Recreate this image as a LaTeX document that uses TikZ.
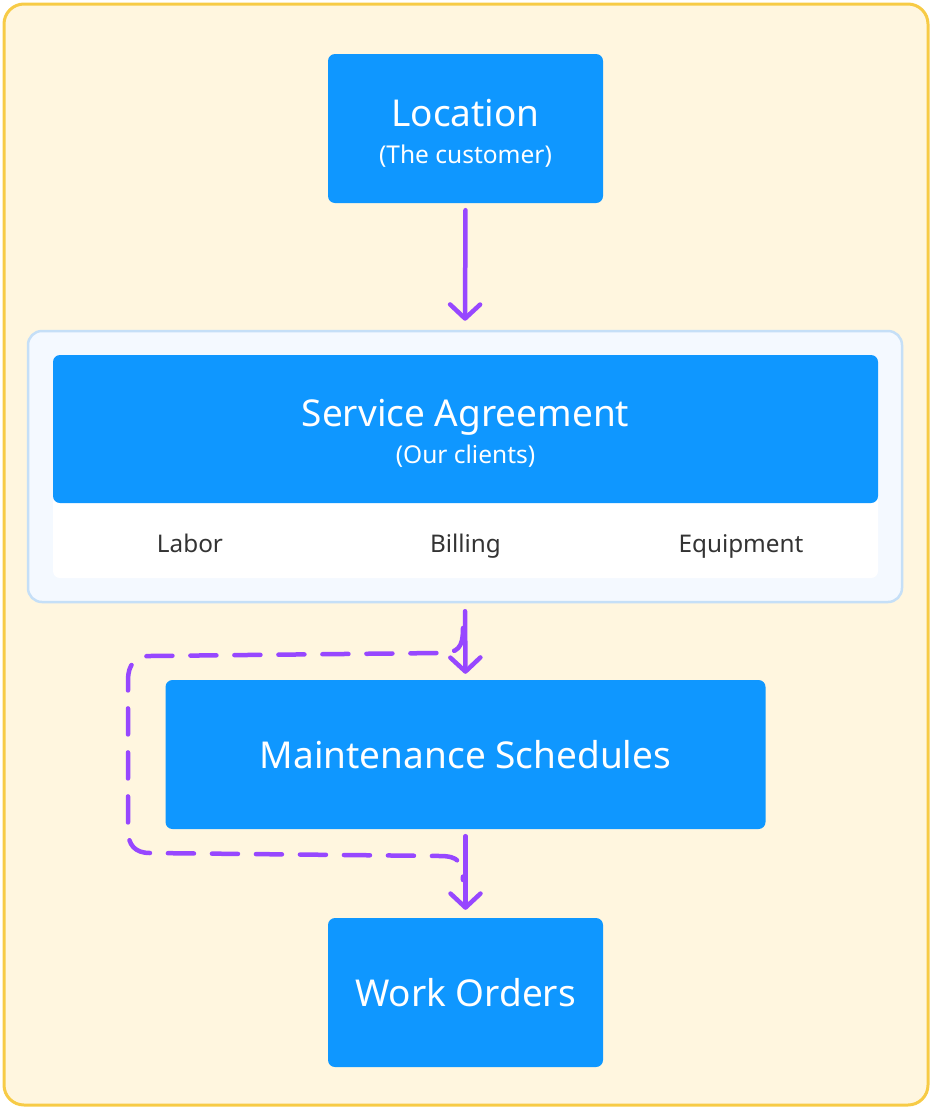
\documentclass[tikz,border=0pt]{standalone}
\usepackage{fontspec}
\setmainfont{Noto Sans}
\usetikzlibrary{arrows.meta}
\definecolor{bgy}{HTML}{FFF6DF}
\definecolor{bdy}{HTML}{F7CB46}
\definecolor{bl}{HTML}{0F97FF}
\definecolor{pur}{HTML}{9747FF}
\definecolor{cont}{HTML}{F4F9FF}
\definecolor{contb}{HTML}{C5DFF7}
\definecolor{txt}{HTML}{333333}
\tikzset{
  bluebox/.style={fill=bl, rounded corners=7pt, inner sep=0pt, text=white, align=center},
  big/.style={text=white, anchor=base, inner sep=0pt, font=\fontsize{37}{44}\selectfont},
  small/.style={text=white, anchor=base, inner sep=0pt, font=\fontsize{24.5}{29}\selectfont},
  arr/.style={draw=pur, line width=4.5pt, line cap=round, -{Straight Barb[length=14pt,width=30pt,line cap=round,line join=round]}},
  loop/.style={draw=pur, line width=4.5pt, line cap=round, dash pattern=on 26pt off 18pt},
  cell/.style={text=txt, anchor=base, font=\fontsize{24.3}{29}\selectfont, inner sep=0pt}
}
\begin{document}
\begin{tikzpicture}[x=1pt,y=-1pt]
\useasboundingbox (0,0) rectangle (932,1109);
\draw[fill=bgy, draw=bdy, line width=3pt, rounded corners=20pt] (4,4) rectangle (928,1105);
% Location
\node[bluebox, minimum width=275pt, minimum height=149pt] (loc) at (465.5,128.5) {};
\node[big] (loct) at (465.5,126) {Location};
\node[small] (locs) at (465.5,163) {(The customer)};
% Service agreement container
\node[fill=cont, draw=contb, line width=2.5pt, rounded corners=14pt, minimum width=874pt, minimum height=271pt, inner sep=0pt] (sac) at (465,466.5) {};
\node[fill=white, rounded corners=7pt, minimum width=825pt, minimum height=83pt, inner sep=0pt] (strip) at (465.5,536.5) {};
\node[bluebox, minimum width=825pt, minimum height=148pt] (sa) at (465.5,429) {};
\node[big] (sat) at (465.5,426) {Service Agreement};
\node[small] (sas) at (465.5,463) {(Our clients)};
\node[cell] (labor) at (190,552) {Labor};
\node[cell] (billing) at (465.5,552) {Billing};
\node[cell] (equip) at (741,552) {Equipment};
% Maintenance
\node[bluebox, minimum width=600pt, minimum height=149pt] (ms) at (465.5,754.5) {};
\node[big] (mst) at (465.5,768) {Maintenance Schedules};
% Work orders
\node[bluebox, minimum width=275pt, minimum height=149pt] (wo) at (465.5,992.5) {};
\node[big] (wot) at (465.5,1006) {Work Orders};
% arrows
\draw[arr, shorten <=7pt, shorten >=9pt] (loc.south) -- (sac.north);
\draw[arr, shorten <=8pt, shorten >=6pt] (sac.south) -- (ms.north);
\draw[arr, shorten <=7pt, shorten >=8pt] (ms.south) -- (wo.north);
% dashed loop
\coordinate (ls) at (463,628);
\coordinate (le) at (463,880);
\draw[loop] (ls) .. controls (463,648) and (458,653) .. (440,653) -- (150,656)
  .. controls (135,656) and (128,665) .. (128,680) -- (128,830)
  .. controls (128,845) and (135,853) .. (150,853) -- (440,856)
  .. controls (458,856) and (463,862) .. (le);
\end{tikzpicture}
\end{document}
